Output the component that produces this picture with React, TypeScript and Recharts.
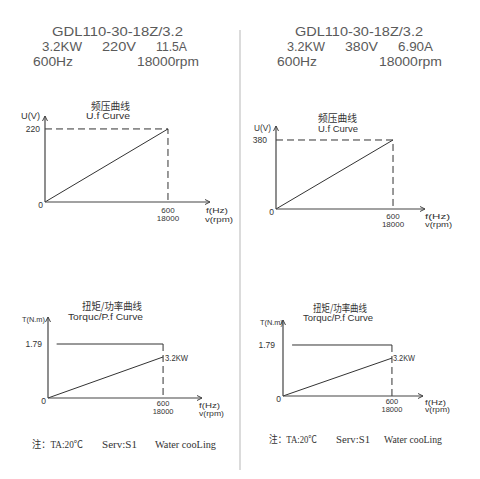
import React from "react";
import { LineChart, Line, XAxis, YAxis, ReferenceDot } from "recharts";

// rated point of both motors
const ratedFreq = 600;
const ratedRpm = 18000;
const freqTicks = [ratedFreq];
const rpmTicks = [ratedRpm];

// U/f curves (V at 0 Hz and at 600 Hz)
const voltLeft = [0, 220];
const voltRight = [0, 380];

// torque / power curves
const ratedTorque = [1.79, 1.79];
const torqueStartFreq = [45, 50];
const powerAtRated = [1.36, 1.33];

type Pt = { f: number; v: number };

const seg = (pts: [number, number][]): Pt[] => pts.map(([f, v]) => ({ f, v }));

const ufSolid = (volt: number[]) => [seg([[0, volt[0]], [ratedFreq, volt[1]]])];
const ufDashed = (volt: number[]) => [
  seg([[0, volt[1]], [ratedFreq, volt[1]], [ratedFreq, 0]]),
];
const tpSolid = (i: number) => [
  seg([[torqueStartFreq[i], ratedTorque[i]], [ratedFreq, ratedTorque[i]]]),
  seg([[0, 0], [ratedFreq, powerAtRated[i]]]),
];
const tpDashed = (i: number) => [seg([[ratedFreq, ratedTorque[i]], [ratedFreq, 0]])];

const SANS = "'Liberation Sans', Arial, sans-serif";
const SERIF = "'Liberation Serif', 'Noto Sans CJK SC', serif";
const CJK = "'Noto Sans CJK SC', sans-serif";
const INK = "#333";

interface PanelProps {
  left: number;
  top: number;
  width: number;
  height: number;
  mTop: number;
  mRight: number;
  yWidth: number;
  xHeight: number;
  xMax: number;
  yMax: number;
  yTicks: number[];
  yGap: number;
  solid: Pt[][];
  dashed: Pt[][];
  tickDy: [number, number];
  tickFont: number;
}

const Panel = (p: PanelProps) => {
  const XTick = (t: any) => {
    const i = freqTicks.indexOf(t.payload.value);
    return (
      <text textAnchor="middle" fontSize={p.tickFont} fill={INK} fontFamily={SANS} dominantBaseline="central">
        <tspan x={t.x} y={t.y + p.tickDy[0]}>{t.payload.value}</tspan>
        <tspan x={t.x} y={t.y + p.tickDy[1]}>{rpmTicks[i]}</tspan>
      </text>
    );
  };
  const YTick = (t: any) => {
    const zero = t.payload.value === 0;
    return (
      <text
        x={t.x - (zero ? 2 : p.yGap)}
        y={t.y + (zero ? 3 : 0)}
        textAnchor="end"
        dominantBaseline="central"
        fontSize={8.5}
        fill={INK}
        fontFamily={SANS}
      >
        {t.payload.value}
      </text>
    );
  };
  return (
    <div style={{ position: "absolute", left: p.left, top: p.top }}>
      <LineChart
        width={p.width}
        height={p.height}
        margin={{ top: p.mTop, right: p.mRight, left: 0, bottom: 0 }}
      >
        <XAxis
          type="number"
          dataKey="f"
          domain={[0, p.xMax]}
          ticks={freqTicks}
          height={p.xHeight}
          tickSize={0}
          tickMargin={0}
          tickLine={false}
          tick={XTick}
          axisLine={{ stroke: "#444", strokeWidth: 1.2 }}
        />
        <YAxis
          type="number"
          domain={[0, p.yMax]}
          ticks={p.yTicks}
          width={p.yWidth}
          tickSize={0}
          tickMargin={0}
          tickLine={false}
          tick={YTick}
          axisLine={{ stroke: "#444", strokeWidth: 1.2 }}
        />
        {p.solid.map((d, i) => (
          <Line
            key={"s" + i}
            data={d}
            dataKey="v"
            stroke={INK}
            strokeWidth={1}
            dot={false}
            activeDot={false}
            isAnimationActive={false}
          />
        ))}
        {p.dashed.map((d, i) => (
          <Line
            key={"d" + i}
            data={d}
            dataKey="v"
            stroke={INK}
            strokeWidth={1}
            strokeDasharray="7 4"
            dot={false}
            activeDot={false}
            isAnimationActive={false}
          />
        ))}
        <ReferenceDot
          x={p.xMax}
          y={0}
          r={0}
          shape={(s: any) => (
            <path d={`M${s.cx - 5},${s.cy - 2.5} L${s.cx},${s.cy} L${s.cx - 5},${s.cy + 2.5}`} fill="none" stroke="#444" />
          )}
        />
        <ReferenceDot
          x={0}
          y={p.yMax}
          r={0}
          shape={(s: any) => (
            <path d={`M${s.cx - 2.5},${s.cy + 5} L${s.cx},${s.cy} L${s.cx + 2.5},${s.cy + 5}`} fill="none" stroke="#444" />
          )}
        />
      </LineChart>
    </div>
  );
};

type Txt = [string, number, number, number, string, number?, string?];
// text, x(start), y(center), size, font, width, colour
const HEAD = "#5a5a5a";
const texts: Txt[] = [
  ["GDL110-30-18Z/3.2", 52, 31, 13, SANS, 131, HEAD],
  ["3.2KW", 42, 46, 13, SANS, 40, HEAD],
  ["220V", 102, 46, 13, SANS, 34, HEAD],
  ["11.5A", 156, 46, 13, SANS, 31, HEAD],
  ["600Hz", 33, 61, 13, SANS, 40, HEAD],
  ["18000rpm", 137, 61, 13, SANS, 62, HEAD],
  ["GDL110-30-18Z/3.2", 295, 31.5, 13, SANS, 128, HEAD],
  ["3.2KW", 287, 46, 13, SANS, 38, HEAD],
  ["380V", 345, 46, 13, SANS, 33, HEAD],
  ["6.90A", 398, 46, 13, SANS, 35, HEAD],
  ["600Hz", 277, 61, 13, SANS, 40, HEAD],
  ["18000rpm", 379, 61, 13, SANS, 63, HEAD],

  ["频压曲线", 91, 105, 10, CJK, 39],
  ["U.f Curve", 86, 116, 8.5, SANS, 44],
  ["U(V)", 21, 116, 8.5, SANS, 19],
  ["f(Hz)", 206, 210, 8, SANS, 22],
  ["v(rpm)", 205, 219, 8, SANS, 28],

  ["频压曲线", 318, 117, 10, CJK, 39],
  ["U.f Curve", 318, 128.5, 8.5, SANS, 40],
  ["U(V)", 254, 128, 8.5, SANS, 17],
  ["f(Hz)", 425, 216, 8, SANS, 25],
  ["v(rpm)", 425, 224, 8, SANS, 27],

  ["扭矩/功率曲线", 82, 305, 10, CJK, 60],
  ["Torquc/P.f Curve", 68, 317, 8.5, SANS, 75],
  ["T(N.m)", 22, 319, 8, SANS, 23],
  ["3.2KW", 165, 358, 8.5, SANS, 23],
  ["f(Hz)", 199, 405, 7.5, SANS, 21],
  ["v(rpm)", 199, 413.5, 7.5, SANS, 25],
  ["注：TA:20℃", 32, 444, 10, SERIF, 51],
  ["Serv:S1", 102, 444, 10, SERIF, 35],
  ["Water cooLing", 155, 444, 10, SERIF, 61],

  ["扭矩/功率曲线", 313, 307, 10, CJK, 54],
  ["Torquc/P.f Curve", 303, 318, 8.5, SANS, 70],
  ["T(N.m)", 260, 322, 8, SANS, 23],
  ["3.2KW", 393, 358, 8.5, SANS, 22],
  ["f(Hz)", 425, 402, 7, SANS, 21],
  ["v(rpm)", 425, 409.5, 7, SANS, 25],
  ["注：TA:20℃", 269, 439, 10, SERIF, 48],
  ["Serv:S1", 336, 439, 10, SERIF, 34],
  ["Water cooLing", 384, 439, 10, SERIF, 58],
];

export default function App() {
  return (
    <div style={{ position: "absolute", left: 0, top: 0, width: 480, height: 479, background: "#fff" }}>
      <Panel
        left={0} top={100} width={240} height={130} mTop={16} mRight={30} yWidth={45} xHeight={28}
        xMax={805} yMax={259} yTicks={voltLeft} yGap={5}
        solid={ufSolid(voltLeft)} dashed={ufDashed(voltLeft)} tickDy={[8, 16]} tickFont={8}
      />
      <Panel
        left={240} top={110} width={240} height={130} mTop={16} mRight={55} yWidth={36} xHeight={31}
        xMax={764} yMax={457} yTicks={voltRight} yGap={9}
        solid={ufSolid(voltRight)} dashed={ufDashed(voltRight)} tickDy={[7, 15]} tickFont={8}
      />
      <Panel
        left={0} top={300} width={240} height={130} mTop={17} mRight={38} yWidth={48} xHeight={32}
        xMax={803} yMax={2.685} yTicks={[0, ratedTorque[0]]} yGap={6}
        solid={tpSolid(0)} dashed={tpDashed(0)} tickDy={[5, 13]} tickFont={7.5}
      />
      <Panel
        left={240} top={300} width={240} height={130} mTop={20} mRight={57} yWidth={43} xHeight={34}
        xMax={771} yMax={2.667} yTicks={[0, ratedTorque[1]]} yGap={8}
        solid={tpSolid(1)} dashed={tpDashed(1)} tickDy={[5, 13]} tickFont={7.5}
      />
      <svg width={480} height={479} style={{ position: "absolute", left: 0, top: 0, pointerEvents: "none" }}>
        <line x1={240} y1={30} x2={240} y2={470} stroke="#cfcfcf" strokeWidth={1.5} />
        {texts.map(([t, x, y, size, font, w, color], i) => (
          <text
            key={i}
            x={x}
            y={y}
            fontSize={size}
            fontFamily={font}
            fill={color || INK}
            dominantBaseline="central"
            textLength={w}
            lengthAdjust="spacingAndGlyphs"
          >
            {t}
          </text>
        ))}
      </svg>
    </div>
  );
}
